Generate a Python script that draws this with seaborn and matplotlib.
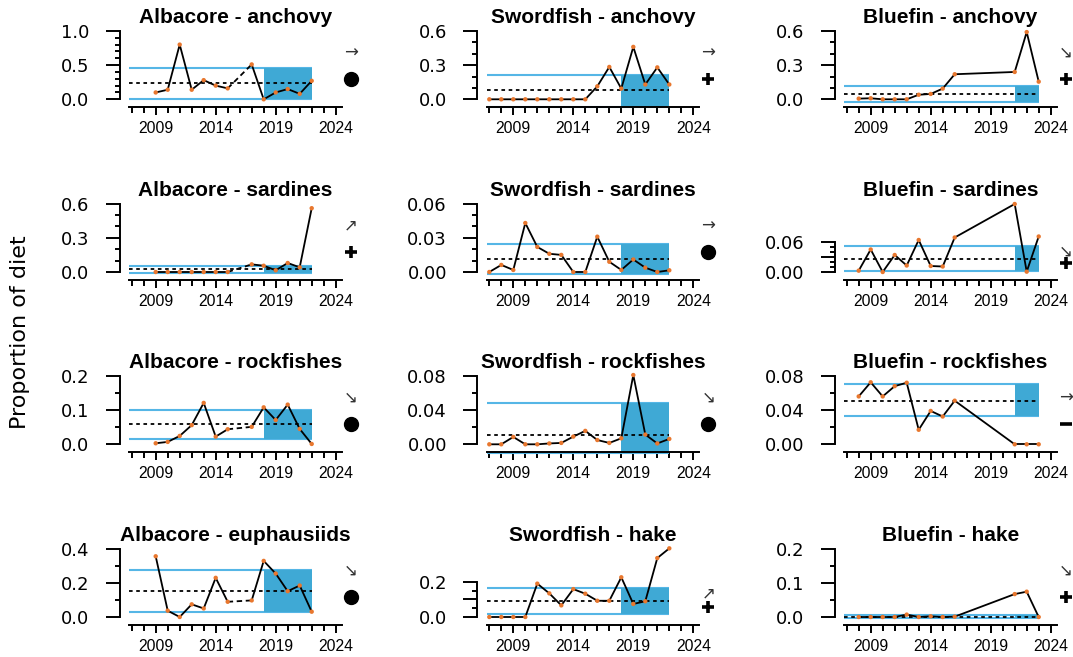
import numpy as np
import matplotlib
matplotlib.use("Agg")
import matplotlib.pyplot as plt
import seaborn as sns

sns.set_style("ticks")
plt.rcParams['font.family'] = ['Liberation Sans', 'DejaVu Sans']
plt.rcParams['axes.edgecolor'] = 'black'
plt.rcParams['xtick.color'] = 'black'
plt.rcParams['ytick.color'] = 'black'
plt.rcParams['text.color'] = 'black'
plt.rcParams['axes.labelcolor'] = 'black'
plt.rcParams['axes.titlecolor'] = 'black'

# ---- survey years per predator ----
alb_years = [2009, 2010, 2011, 2012, 2013, 2014, 2015, 2017, 2018, 2019, 2020, 2021, 2022]
swo_years = list(range(2007, 2023))
blu_years = [2008, 2009, 2010, 2011, 2012, 2013, 2014, 2015, 2016, 2021, 2022, 2023]

# ---- proportion of diet ----
alb_anchovy = [0.10, 0.14, 0.80, 0.14, 0.28, 0.20, 0.16, 0.51, 0.00, 0.10, 0.15, 0.08, 0.27]
alb_sardines = [0.0, 0.0, 0.0, 0.0, 0.0, 0.0, 0.0, 0.067, 0.055, 0.015, 0.079, 0.041, 0.56]
alb_rockfishes = [0.003, 0.007, 0.0245, 0.056, 0.121, 0.0225, 0.044, 0.051, 0.108, 0.071, 0.116, 0.045, 0.001]
alb_euphausiids = [0.355, 0.037, 0.0, 0.074, 0.05, 0.229, 0.089, 0.097, 0.328, 0.254, 0.151, 0.184, 0.031]

swo_anchovy = [0, 0, 0, 0, 0, 0, 0, 0, 0, 0.114, 0.284, 0.094, 0.46, 0.13, 0.28, 0.13]
swo_sardines = [0.0, 0.0062, 0.0018, 0.043, 0.022, 0.016, 0.015, 0.0, 0.0, 0.031, 0.009,
                0.0018, 0.011, 0.0038, 0.0, 0.0015]
swo_rockfishes = [0, 0, 0.0086, 0, 0, 0.001, 0.0016, 0.009, 0.0157, 0.005, 0.0016, 0.007,
                  0.081, 0.0114, 0.001, 0.0063]
swo_hake = [0, 0, 0, 0, 0.189, 0.134, 0.066, 0.158, 0.132, 0.092, 0.092, 0.225, 0.074,
            0.089, 0.334, 0.389]

blu_anchovy = [0.006, 0.009, 0.0, 0.0, 0.0, 0.04, 0.047, 0.094, 0.22, 0.24, 0.59, 0.155]
blu_sardines = [0.0027, 0.045, 0.0, 0.034, 0.013, 0.064, 0.012, 0.011, 0.069, 0.136, 0.0007, 0.071]
blu_rockfishes = [0.056, 0.0725, 0.056, 0.068, 0.072, 0.017, 0.039, 0.0325, 0.051, 0.0, 0.0, 0.0]
blu_hake = [0, 0, 0, 0, 0.007, 0, 0.002, 0, 0.001, 0.067, 0.074, 0]

# ---- long-term mean and +/- 1 SD band (mean, lower, upper) ----
alb_anchovy_band = [0.24, 0.01, 0.46]
alb_sardines_band = [0.023, -0.012, 0.055]
alb_rockfishes_band = [0.058, 0.0157, 0.100]
alb_euphausiids_band = [0.151, 0.031, 0.274]
swo_anchovy_band = [0.079, -0.064, 0.217]
swo_sardines_band = [0.0115, -0.0018, 0.025]
swo_rockfishes_band = [0.0106, -0.0098, 0.0486]
swo_hake_band = [0.091, 0.015, 0.164]
blu_anchovy_band = [0.047, -0.026, 0.12]
blu_sardines_band = [0.027, 0.002, 0.053]
blu_rockfishes_band = [0.051, 0.033, 0.070]
blu_hake_band = [0.0005, -0.004, 0.005]

# ---- recent-period trend and status symbols ----
trend_symbols = ['→', '→', '↘',
                 '↗', '→', '↘',
                 '↘', '↘', '→',
                 '↘', '↗', '↘']
status_symbols = ['●', '+', '+',
                  '+', '●', '+',
                  '●', '●', '−',
                  '●', '+', '+']

titles = ['Albacore - anchovy', 'Swordfish - anchovy', 'Bluefin - anchovy',
          'Albacore - sardines', 'Swordfish - sardines', 'Bluefin - sardines',
          'Albacore - rockfishes', 'Swordfish - rockfishes', 'Bluefin - rockfishes',
          'Albacore - euphausiids', 'Swordfish - hake', 'Bluefin - hake']

# y-axis ticks: labelled majors, minor step
y_major = [[0, 0.5, 1.0], [0, 0.3, 0.6], [0, 0.3, 0.6],
           [0, 0.3, 0.6], [0, 0.03, 0.06], [0, 0.03, 0.06],
           [0, 0.1, 0.2], [0, 0.04, 0.08], [0, 0.04, 0.08],
           [0, 0.2, 0.4], [0, 0.1, 0.2], [0, 0.1, 0.2]]
y_labels = [['0.0', '0.5', '1.0'], ['0.0', '0.3', '0.6'], ['0.0', '0.3', '0.6'],
            ['0.0', '0.3', '0.6'], ['0.00', '0.03', '0.06'], ['0.00', '', '0.06'],
            ['0.0', '0.1', '0.2'], ['0.00', '0.04', '0.08'], ['0.00', '0.04', '0.08'],
            ['0.0', '0.2', '0.4'], ['0.0', '', '0.2'], ['0.0', '0.1', '0.2']]
y_minor_step = [0.1, 0.1, 0.1, 0.1, 0.01, 0.01, 0.05, 0.02, 0.02, 0.1, 0.05, 0.05]
y_top = [1.053, 0.632, 0.632, 0.632, 0.0632, 0.144, 0.2105, 0.0842, 0.0842, 0.421, 0.408, 0.2105]

predators = [
    dict(years=alb_years, recent=2018, gap='dashed',
         series=[alb_anchovy, alb_sardines, alb_rockfishes, alb_euphausiids],
         bands=[alb_anchovy_band, alb_sardines_band, alb_rockfishes_band, alb_euphausiids_band]),
    dict(years=swo_years, recent=2018, gap='solid',
         series=[swo_anchovy, swo_sardines, swo_rockfishes, swo_hake],
         bands=[swo_anchovy_band, swo_sardines_band, swo_rockfishes_band, swo_hake_band]),
    dict(years=blu_years, recent=2021, gap='solid',
         series=[blu_anchovy, blu_sardines, blu_rockfishes, blu_hake],
         bands=[blu_anchovy_band, blu_sardines_band, blu_rockfishes_band, blu_hake_band]),
]

ORANGE = '#E8772E'
FILL = '#3FA9D5'
BANDLINE = '#55B6E6'
XLIM = (2006.8, 2024.5)
SYM_X = 2025.25

W, H = 1073, 657
fig = plt.figure(figsize=(W / 100, H / 100), dpi=100)
fig.patch.set_facecolor('white')

col_left = [129.3, 486.9, 844.3]
row_axis = [107.3, 280.0, 452.3, 625.0]
ax_w, ax_h = 212.4, 80.0

for r in range(4):
    for c in range(3):
        k = r * 3 + c
        pred = predators[c]
        yrs = np.array(pred['years'])
        vals = np.array(pred['series'][r], dtype=float)
        mean, lo, hi = pred['bands'][r]
        last = yrs[-1]

        ax = fig.add_axes([col_left[c] / W, 1 - row_axis[r] / H, ax_w / W, ax_h / H])
        top = y_top[k]
        ax.set_xlim(*XLIM)
        ax.set_ylim(-top * 8 / 72, top)

        # reference band and long-term mean
        ax.hlines([lo, hi], XLIM[0], last, colors=BANDLINE, lw=1.5, zorder=1, clip_on=False)
        ax.fill_between([pred['recent'], last], lo, hi, color=FILL, lw=0, zorder=2, clip_on=False)
        ax.hlines(mean, XLIM[0], last, colors='black', lw=1.3,
                  linestyles=(0, (2, 2)), zorder=3, clip_on=False)

        # series: contiguous runs solid, missing-year gaps joined
        breaks = np.where(np.diff(yrs) > 1)[0]
        starts = np.r_[0, breaks + 1]
        ends = np.r_[breaks + 1, len(yrs)]
        for s, e in zip(starts, ends):
            sns.lineplot(x=yrs[s:e], y=vals[s:e], ax=ax, color='black', lw=1.3,
                         estimator=None, sort=False, zorder=4, clip_on=False)
        for b in breaks:
            ls = (0, (3, 2)) if pred['gap'] == 'dashed' else '-'
            ax.plot(yrs[b:b + 2], vals[b:b + 2], color='black', lw=1.3, ls=ls,
                    zorder=4, clip_on=False)
        sns.scatterplot(x=yrs, y=vals, ax=ax, color=ORANGE, s=10, edgecolor='none',
                        zorder=5, clip_on=False)
        ax.set_xlabel('')
        ax.set_ylabel('')

        # axes styling
        for side in ('top', 'right'):
            ax.spines[side].set_visible(False)
        ax.spines['left'].set_position(('outward', 6.8))
        ax.spines['left'].set_bounds(0, y_major[k][-1])
        for side in ('left', 'bottom'):
            ax.spines[side].set_linewidth(1.4)

        ax.set_xticks([2009, 2014, 2019, 2024])
        ax.set_xticklabels(['2009', '2014', '2019', '2024'], fontsize=11.3)
        ax.set_xticks(np.arange(2007, 2025), minor=True)
        ax.set_yticks(y_major[k])
        ax.set_yticklabels(y_labels[k], fontsize=13, family='DejaVu Sans')
        step = y_minor_step[k]
        ax.set_yticks(np.round(np.arange(0, y_major[k][-1] + step / 2, step), 4), minor=True)
        ax.tick_params(axis='x', which='major', length=5.8, width=1.4, pad=4)
        ax.tick_params(axis='x', which='minor', length=4.0, width=1.4)
        ax.tick_params(axis='y', which='major', length=10.0, width=1.4, pad=12)
        ax.tick_params(axis='y', which='minor', length=3.6, width=1.4)

        ax.set_title(titles[k], fontsize=15, fontweight='bold', pad=1.5, color='black')

        # trend arrow and status symbol
        ytick_top = y_major[k][-1]
        ax.text(SYM_X, 0.68 * ytick_top, trend_symbols[k], ha='center', va='center',
                fontsize=12, color='#333333', family='DejaVu Sans', clip_on=False)
        st = status_symbols[k]
        sy = 0.29 * ytick_top
        if st == '●':
            ax.plot([SYM_X], [sy], 'o', color='black', ms=10, clip_on=False, zorder=6)
        elif st == '+':
            ax.plot([SYM_X], [sy], '+', color='black', ms=8.5, mew=2.6, clip_on=False, zorder=6)
        else:
            ax.plot([SYM_X], [sy], '_', color='black', ms=9, mew=2.6, clip_on=False, zorder=6)

fig.text(20 / W, 1 - 332 / H, 'Proportion of diet', rotation=90, ha='center', va='center',
         fontsize=16, family='DejaVu Sans')

fig.savefig('out.png', dpi=100, facecolor='white')
